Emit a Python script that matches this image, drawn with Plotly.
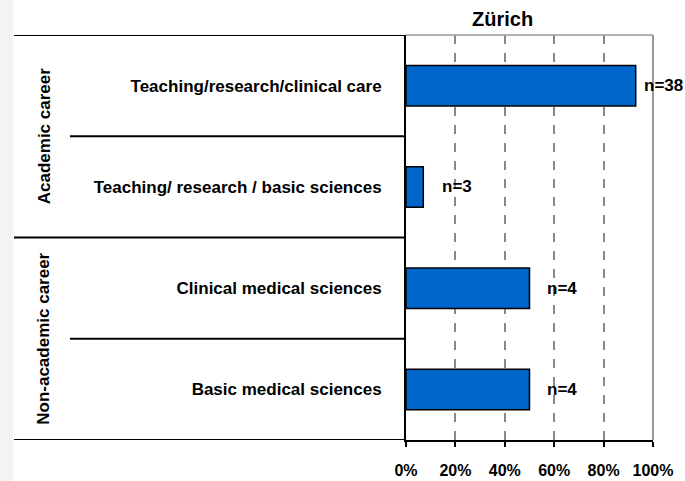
import plotly.graph_objects as go

categories = ["Teaching/research/clinical care",
              "Teaching/ research / basic sciences",
              "Clinical medical sciences",
              "Basic medical sciences"]
values = [93, 7, 50, 50]
n_labels = ["n=38", "n=3", "n=4", "n=4"]
groups = ["Academic career", "Non-academic career"]
tick_vals = [0, 20, 40, 60, 80, 100]
tick_text = ["0%", "20%", "40%", "60%", "80%", "100%"]
title = "Zürich"

label_shift = [6, 17, 15, 15]

FONT = "Liberation Sans, Arial, sans-serif"
W, H = 685, 481
L, R, T, B = 406, 32, 35, 41
pw = W - L - R

def px2paper(px):
    return (px - L) / pw

pos = list(range(len(categories)))

fig = go.Figure()
fig.add_trace(go.Bar(
    x=values, y=pos, orientation="h", width=0.4,
    marker=dict(color="#0066CC", line=dict(color="black", width=1.5)),
    hoverinfo="x+y",
))

annotations = []
for i, (v, t) in enumerate(zip(values, n_labels)):
    annotations.append(dict(x=v, y=i, xref="x", yref="y", text=t, showarrow=False,
                            xanchor="left", xshift=label_shift[i],
                            font=dict(family=FONT, size=17, color="black", weight="bold")))
# group labels
for gi, g in enumerate(groups):
    annotations.append(dict(x=px2paper(44), y=2 * gi + 0.5, xref="paper", yref="y", text=g,
                            showarrow=False, textangle=-90, xanchor="center", yanchor="middle",
                            font=dict(family=FONT, size=17, color="black", weight="bold")))
# title
annotations.append(dict(x=px2paper(502), y=1, xref="paper", yref="paper", text=title,
                        showarrow=False, yanchor="bottom", yshift=3,
                        font=dict(family=FONT, size=20, color="black", weight="bold")))

shapes = []
# long table lines
for yb in [-0.5, 1.5, 3.5]:
    shapes.append(dict(type="line", xref="paper", yref="y", x0=px2paper(14), x1=0,
                       y0=yb, y1=yb, line=dict(color="black", width=2)))
for yb in [0.5, 2.5]:
    shapes.append(dict(type="line", xref="paper", yref="y", x0=px2paper(70), x1=0,
                       y0=yb, y1=yb, line=dict(color="black", width=2)))
# gray border top and right
shapes.append(dict(type="line", xref="paper", yref="paper", x0=0, x1=1, y0=1, y1=1,
                   line=dict(color="#999999", width=1.5)))
shapes.append(dict(type="line", xref="paper", yref="paper", x0=1, x1=1, y0=0, y1=1,
                   line=dict(color="#999999", width=2)))
# light gray left strip
shapes.append(dict(type="rect", xref="paper", yref="paper", x0=px2paper(0), x1=px2paper(13),
                   y0=-B / (H - T - B), y1=1 + T / (H - T - B),
                   fillcolor="#f3f3f3", line=dict(width=0), layer="below"))

fig.update_layout(
    width=W, height=H,
    margin=dict(l=L, r=R, t=T, b=B, pad=0, autoexpand=False),
    paper_bgcolor="white", plot_bgcolor="white",
    showlegend=False,
    bargap=0.6,
    annotations=annotations,
    shapes=shapes,
    font=dict(family=FONT, color="black"),
    xaxis=dict(range=[0, 100], tickvals=tick_vals, ticktext=tick_text,
               showgrid=True, gridcolor="#888888", griddash="dash", gridwidth=1.5,
               showline=True, linecolor="black", linewidth=2,
               ticks="outside", ticklen=5, tickcolor="black", tickwidth=2,
               ticklabelstandoff=10, automargin=False,
               tickfont=dict(family=FONT, size=16, color="black", weight="bold"),
               zeroline=False, fixedrange=True),
    yaxis=dict(range=[3.5, -0.5], tickvals=pos, ticktext=categories,
               showgrid=False, showline=True, linecolor="black", linewidth=2,
               ticks="", ticklabelstandoff=19, zeroline=False, automargin=False,
               tickfont=dict(family=FONT, size=17, color="black", weight="bold"),
               fixedrange=True),
)

fig.write_html("out.html", post_script="document.body.style.margin='0';",
               config={"displayModeBar": False})
